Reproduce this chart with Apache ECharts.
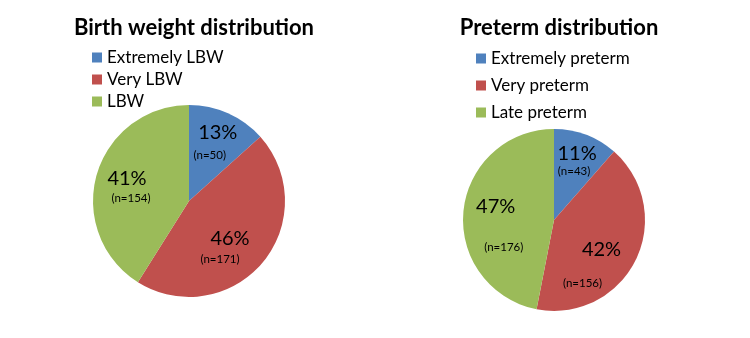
<!DOCTYPE html>
<html>
<head>
<meta charset="utf-8">
<script src="https://cdn.jsdelivr.net/npm/echarts@6/dist/echarts.min.js"></script>
<style>
  html, body { margin: 0; padding: 0; background: #fff; }
  #main { width: 750px; height: 338px; }
</style>
</head>
<body>
<div id="main"></div>
<script>
var weightNames = ['Extremely LBW', 'Very LBW', 'LBW'];
var weightCounts = [50, 171, 154];
var pretermNames = ['Extremely preterm', 'Very preterm', 'Late preterm'];
var pretermCounts = [43, 156, 176];
var colors = ['#4F81BD', '#C0504D', '#9BBB59'];
var font = 'Lato';

// nudges for the in-slice labels, the way they sit in the original (percent / count)
var pctShift = [[[8, -22], [2, 5], [-13, -8]], [[6, -21], [4, 8], [-10, -9]]];
var cntShift = [[[0, 1], [-8, 25], [-9, 11]], [[3, -3], [-15, 42], [-2, 32]]];

function toData(names, counts) {
    return names.map(function (n, i) {
        return { name: n, value: counts[i] };
    });
}

function makePie(name, names, counts, center, radius, showCount) {
    return {
        name: name,
        type: 'pie',
        center: center,
        radius: radius,
        startAngle: 90,
        clockwise: true,
        silent: true,
        itemStyle: showCount ? { color: 'rgba(0,0,0,0)' } : {},
        label: {
            position: 'inside',
            color: '#000',
            fontFamily: font,
            fontSize: showCount ? 11.5 : 20,
            formatter: function (p) {
                return showCount ? '(n=' + p.value + ')' : Math.round(p.percent) + '%';
            }
        },
        labelLine: { show: false },
        labelLayout: function (p) {
            var pie = center[0] < 375 ? 0 : 1;
            var s = (showCount ? cntShift : pctShift)[pie][p.dataIndex];
            return { dx: s[0], dy: s[1] };
        },
        data: toData(names, counts)
    };
}

var titleStyle = { fontFamily: font, fontSize: 22, fontWeight: 'bold', color: '#000' };
var legendStyle = { fontFamily: font, fontSize: 17, color: '#000' };

var options = {
    color: colors,
    title: [{
        text: 'Birth weight distribution',
        left: 189,
        top: 12,
        textAlign: 'center',
        textStyle: titleStyle
    }, {
        text: 'Preterm distribution',
        left: 554,
        top: 12,
        textAlign: 'center',
        textStyle: titleStyle
    }],
    legend: [{
        data: weightNames,
        orient: 'vertical',
        left: 92,
        top: 49,
        padding: 0,
        itemWidth: 10,
        itemHeight: 10,
        itemGap: 5,
        icon: 'rect',
        textStyle: legendStyle
    }, {
        data: pretermNames,
        orient: 'vertical',
        left: 476,
        top: 50,
        padding: 0,
        itemWidth: 10,
        itemHeight: 10,
        itemGap: 10,
        icon: 'rect',
        textStyle: legendStyle
    }],
    series: [
        makePie('Birth weight', weightNames, weightCounts, [189, 201], 96, false),
        makePie('Preterm', pretermNames, pretermCounts, [554, 220], 91, false),
        makePie('Birth weight n', weightNames, weightCounts, [189, 201], 96, true),
        makePie('Preterm n', pretermNames, pretermCounts, [554, 220], 91, true)
    ]
};

var chart = echarts.init(document.getElementById('main'));
chart.setOption(options);
</script>
</body>
</html>
